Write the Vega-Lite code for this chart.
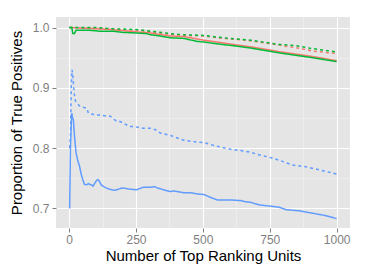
{
  "$schema": "https://vega.github.io/schema/vega-lite/v6.json",
  "width": 294,
  "height": 211,
  "autosize": "none",
  "padding": {"left": 56, "top": 17, "right": 18, "bottom": 48},
  "background": "white",
  "config": {
    "view": {"fill": "#E5E5E5", "stroke": null},
    "font": "Liberation Sans",
    "axis": {
      "domain": false,
      "labelFont": "Liberation Sans",
      "titleFont": "Liberation Sans",
      "labelFontSize": 12,
      "labelColor": "#7F7F7F",
      "tickSize": 4,
      "tickWidth": 1,
      "titleFontSize": 15,
      "titleFontWeight": "normal",
      "titleColor": "black"
    }
  },
  "data": {
    "values": [
      {"x": 1, "y": 1.0, "m": "A", "s": "solid"},
      {"x": 50, "y": 0.999, "m": "A", "s": "solid"},
      {"x": 100, "y": 0.998, "m": "A", "s": "solid"},
      {"x": 150, "y": 0.997, "m": "A", "s": "solid"},
      {"x": 200, "y": 0.995, "m": "A", "s": "solid"},
      {"x": 250, "y": 0.993, "m": "A", "s": "solid"},
      {"x": 304, "y": 0.991, "m": "A", "s": "solid"},
      {"x": 379, "y": 0.986, "m": "A", "s": "solid"},
      {"x": 429, "y": 0.985, "m": "A", "s": "solid"},
      {"x": 504, "y": 0.979, "m": "A", "s": "solid"},
      {"x": 554, "y": 0.976, "m": "A", "s": "solid"},
      {"x": 629, "y": 0.971, "m": "A", "s": "solid"},
      {"x": 679, "y": 0.968, "m": "A", "s": "solid"},
      {"x": 785, "y": 0.960, "m": "A", "s": "solid"},
      {"x": 910, "y": 0.952, "m": "A", "s": "solid"},
      {"x": 1000, "y": 0.945, "m": "A", "s": "solid"},

      {"x": 1, "y": 1.0, "m": "A", "s": "dashed"},
      {"x": 100, "y": 0.999, "m": "A", "s": "dashed"},
      {"x": 164, "y": 0.997, "m": "A", "s": "dashed"},
      {"x": 251, "y": 0.996, "m": "A", "s": "dashed"},
      {"x": 304, "y": 0.993, "m": "A", "s": "dashed"},
      {"x": 379, "y": 0.989, "m": "A", "s": "dashed"},
      {"x": 429, "y": 0.987, "m": "A", "s": "dashed"},
      {"x": 504, "y": 0.986, "m": "A", "s": "dashed"},
      {"x": 554, "y": 0.983, "m": "A", "s": "dashed"},
      {"x": 629, "y": 0.980, "m": "A", "s": "dashed"},
      {"x": 679, "y": 0.978, "m": "A", "s": "dashed"},
      {"x": 785, "y": 0.971, "m": "A", "s": "dashed"},
      {"x": 872, "y": 0.9646, "m": "A", "s": "dashed"},
      {"x": 910, "y": 0.961, "m": "A", "s": "dashed"},
      {"x": 1000, "y": 0.957, "m": "A", "s": "dashed"},

      {"x": 1, "y": 1.0, "m": "B", "s": "solid"},
      {"x": 10, "y": 1.0, "m": "B", "s": "solid"},
      {"x": 14, "y": 0.990, "m": "B", "s": "solid"},
      {"x": 20, "y": 0.990, "m": "B", "s": "solid"},
      {"x": 26, "y": 0.9955, "m": "B", "s": "solid"},
      {"x": 76, "y": 0.9955, "m": "B", "s": "solid"},
      {"x": 114, "y": 0.994, "m": "B", "s": "solid"},
      {"x": 164, "y": 0.994, "m": "B", "s": "solid"},
      {"x": 201, "y": 0.992, "m": "B", "s": "solid"},
      {"x": 251, "y": 0.991, "m": "B", "s": "solid"},
      {"x": 289, "y": 0.990, "m": "B", "s": "solid"},
      {"x": 304, "y": 0.988, "m": "B", "s": "solid"},
      {"x": 326, "y": 0.987, "m": "B", "s": "solid"},
      {"x": 379, "y": 0.983, "m": "B", "s": "solid"},
      {"x": 429, "y": 0.982, "m": "B", "s": "solid"},
      {"x": 479, "y": 0.977, "m": "B", "s": "solid"},
      {"x": 504, "y": 0.976, "m": "B", "s": "solid"},
      {"x": 554, "y": 0.973, "m": "B", "s": "solid"},
      {"x": 629, "y": 0.969, "m": "B", "s": "solid"},
      {"x": 679, "y": 0.966, "m": "B", "s": "solid"},
      {"x": 785, "y": 0.958, "m": "B", "s": "solid"},
      {"x": 910, "y": 0.950, "m": "B", "s": "solid"},
      {"x": 1000, "y": 0.9435, "m": "B", "s": "solid"},

      {"x": 1, "y": 1.0, "m": "B", "s": "dashed"},
      {"x": 100, "y": 1.0, "m": "B", "s": "dashed"},
      {"x": 164, "y": 0.998, "m": "B", "s": "dashed"},
      {"x": 251, "y": 0.9967, "m": "B", "s": "dashed"},
      {"x": 304, "y": 0.994, "m": "B", "s": "dashed"},
      {"x": 379, "y": 0.990, "m": "B", "s": "dashed"},
      {"x": 429, "y": 0.988, "m": "B", "s": "dashed"},
      {"x": 504, "y": 0.987, "m": "B", "s": "dashed"},
      {"x": 554, "y": 0.984, "m": "B", "s": "dashed"},
      {"x": 629, "y": 0.981, "m": "B", "s": "dashed"},
      {"x": 679, "y": 0.979, "m": "B", "s": "dashed"},
      {"x": 785, "y": 0.972, "m": "B", "s": "dashed"},
      {"x": 847, "y": 0.970, "m": "B", "s": "dashed"},
      {"x": 910, "y": 0.965, "m": "B", "s": "dashed"},
      {"x": 1000, "y": 0.9596, "m": "B", "s": "dashed"},

      {"x": 2, "y": 0.700, "m": "C", "s": "solid"},
      {"x": 5, "y": 0.800, "m": "C", "s": "solid"},
      {"x": 8, "y": 0.840, "m": "C", "s": "solid"},
      {"x": 10, "y": 0.858, "m": "C", "s": "solid"},
      {"x": 13, "y": 0.850, "m": "C", "s": "solid"},
      {"x": 16, "y": 0.847, "m": "C", "s": "solid"},
      {"x": 20, "y": 0.820, "m": "C", "s": "solid"},
      {"x": 26, "y": 0.792, "m": "C", "s": "solid"},
      {"x": 32, "y": 0.780, "m": "C", "s": "solid"},
      {"x": 39, "y": 0.770, "m": "C", "s": "solid"},
      {"x": 45, "y": 0.757, "m": "C", "s": "solid"},
      {"x": 51, "y": 0.748, "m": "C", "s": "solid"},
      {"x": 57, "y": 0.740, "m": "C", "s": "solid"},
      {"x": 64, "y": 0.739, "m": "C", "s": "solid"},
      {"x": 72, "y": 0.741, "m": "C", "s": "solid"},
      {"x": 82, "y": 0.739, "m": "C", "s": "solid"},
      {"x": 90, "y": 0.737, "m": "C", "s": "solid"},
      {"x": 95, "y": 0.741, "m": "C", "s": "solid"},
      {"x": 102, "y": 0.746, "m": "C", "s": "solid"},
      {"x": 107, "y": 0.748, "m": "C", "s": "solid"},
      {"x": 113, "y": 0.745, "m": "C", "s": "solid"},
      {"x": 120, "y": 0.739, "m": "C", "s": "solid"},
      {"x": 130, "y": 0.736, "m": "C", "s": "solid"},
      {"x": 139, "y": 0.734, "m": "C", "s": "solid"},
      {"x": 150, "y": 0.732, "m": "C", "s": "solid"},
      {"x": 170, "y": 0.730, "m": "C", "s": "solid"},
      {"x": 185, "y": 0.732, "m": "C", "s": "solid"},
      {"x": 201, "y": 0.734, "m": "C", "s": "solid"},
      {"x": 225, "y": 0.732, "m": "C", "s": "solid"},
      {"x": 251, "y": 0.731, "m": "C", "s": "solid"},
      {"x": 265, "y": 0.733, "m": "C", "s": "solid"},
      {"x": 276, "y": 0.735, "m": "C", "s": "solid"},
      {"x": 304, "y": 0.735, "m": "C", "s": "solid"},
      {"x": 320, "y": 0.736, "m": "C", "s": "solid"},
      {"x": 329, "y": 0.734, "m": "C", "s": "solid"},
      {"x": 345, "y": 0.732, "m": "C", "s": "solid"},
      {"x": 360, "y": 0.730, "m": "C", "s": "solid"},
      {"x": 379, "y": 0.728, "m": "C", "s": "solid"},
      {"x": 391, "y": 0.729, "m": "C", "s": "solid"},
      {"x": 429, "y": 0.726, "m": "C", "s": "solid"},
      {"x": 454, "y": 0.726, "m": "C", "s": "solid"},
      {"x": 480, "y": 0.724, "m": "C", "s": "solid"},
      {"x": 504, "y": 0.723, "m": "C", "s": "solid"},
      {"x": 530, "y": 0.718, "m": "C", "s": "solid"},
      {"x": 554, "y": 0.714, "m": "C", "s": "solid"},
      {"x": 580, "y": 0.714, "m": "C", "s": "solid"},
      {"x": 604, "y": 0.714, "m": "C", "s": "solid"},
      {"x": 641, "y": 0.713, "m": "C", "s": "solid"},
      {"x": 660, "y": 0.711, "m": "C", "s": "solid"},
      {"x": 679, "y": 0.710, "m": "C", "s": "solid"},
      {"x": 710, "y": 0.706, "m": "C", "s": "solid"},
      {"x": 747, "y": 0.704, "m": "C", "s": "solid"},
      {"x": 785, "y": 0.702, "m": "C", "s": "solid"},
      {"x": 810, "y": 0.698, "m": "C", "s": "solid"},
      {"x": 860, "y": 0.696, "m": "C", "s": "solid"},
      {"x": 910, "y": 0.692, "m": "C", "s": "solid"},
      {"x": 960, "y": 0.688, "m": "C", "s": "solid"},
      {"x": 1000, "y": 0.683, "m": "C", "s": "solid"},

      {"x": 2, "y": 0.800, "m": "C", "s": "dashed"},
      {"x": 5, "y": 0.820, "m": "C", "s": "dashed"},
      {"x": 8, "y": 0.900, "m": "C", "s": "dashed"},
      {"x": 11, "y": 0.930, "m": "C", "s": "dashed"},
      {"x": 14, "y": 0.920, "m": "C", "s": "dashed"},
      {"x": 19, "y": 0.891, "m": "C", "s": "dashed"},
      {"x": 24, "y": 0.878, "m": "C", "s": "dashed"},
      {"x": 29, "y": 0.875, "m": "C", "s": "dashed"},
      {"x": 35, "y": 0.872, "m": "C", "s": "dashed"},
      {"x": 41, "y": 0.869, "m": "C", "s": "dashed"},
      {"x": 50, "y": 0.868, "m": "C", "s": "dashed"},
      {"x": 60, "y": 0.867, "m": "C", "s": "dashed"},
      {"x": 66, "y": 0.866, "m": "C", "s": "dashed"},
      {"x": 72, "y": 0.858, "m": "C", "s": "dashed"},
      {"x": 80, "y": 0.857, "m": "C", "s": "dashed"},
      {"x": 101, "y": 0.855, "m": "C", "s": "dashed"},
      {"x": 116, "y": 0.855, "m": "C", "s": "dashed"},
      {"x": 139, "y": 0.853, "m": "C", "s": "dashed"},
      {"x": 154, "y": 0.853, "m": "C", "s": "dashed"},
      {"x": 176, "y": 0.845, "m": "C", "s": "dashed"},
      {"x": 191, "y": 0.844, "m": "C", "s": "dashed"},
      {"x": 226, "y": 0.836, "m": "C", "s": "dashed"},
      {"x": 241, "y": 0.836, "m": "C", "s": "dashed"},
      {"x": 276, "y": 0.833, "m": "C", "s": "dashed"},
      {"x": 304, "y": 0.833, "m": "C", "s": "dashed"},
      {"x": 320, "y": 0.831, "m": "C", "s": "dashed"},
      {"x": 341, "y": 0.825, "m": "C", "s": "dashed"},
      {"x": 379, "y": 0.821, "m": "C", "s": "dashed"},
      {"x": 429, "y": 0.813, "m": "C", "s": "dashed"},
      {"x": 479, "y": 0.810, "m": "C", "s": "dashed"},
      {"x": 504, "y": 0.809, "m": "C", "s": "dashed"},
      {"x": 554, "y": 0.803, "m": "C", "s": "dashed"},
      {"x": 604, "y": 0.798, "m": "C", "s": "dashed"},
      {"x": 641, "y": 0.796, "m": "C", "s": "dashed"},
      {"x": 679, "y": 0.793, "m": "C", "s": "dashed"},
      {"x": 710, "y": 0.789, "m": "C", "s": "dashed"},
      {"x": 747, "y": 0.785, "m": "C", "s": "dashed"},
      {"x": 785, "y": 0.780, "m": "C", "s": "dashed"},
      {"x": 835, "y": 0.772, "m": "C", "s": "dashed"},
      {"x": 885, "y": 0.769, "m": "C", "s": "dashed"},
      {"x": 935, "y": 0.764, "m": "C", "s": "dashed"},
      {"x": 1000, "y": 0.757, "m": "C", "s": "dashed"}
    ]
  },
  "mark": {"type": "line", "strokeWidth": 1.5, "interpolate": "linear"},
  "encoding": {
    "x": {
      "field": "x", "type": "quantitative",
      "scale": {"domain": [-49, 1050], "nice": false, "zero": false},
      "title": "Number of Top Ranking Units",
      "axis": {
        "values": [0, 125, 250, 375, 500, 625, 750, 875, 1000],
        "labelExpr": "datum.value % 250 === 0 ? datum.label : ''",
        "format": "d",
        "gridColor": {"condition": {"test": "datum.value % 250 === 0", "value": "#FFFFFF"}, "value": "#F2F2F2"},
        "gridWidth": {"condition": {"test": "datum.value % 250 === 0", "value": 1.1}, "value": 0.6},
        "tickColor": "#7F7F7F",
        "tickOpacity": {"condition": {"test": "datum.value % 250 === 0", "value": 1}, "value": 0},
        "labelPadding": 2,
        "titlePadding": 3
      }
    },
    "y": {
      "field": "y", "type": "quantitative",
      "scale": {"domain": [0.6675, 1.0175], "nice": false, "zero": false},
      "title": "Proportion of True Positives",
      "axis": {
        "values": [0.7, 0.75, 0.8, 0.85, 0.9, 0.95, 1.0],
        "labelExpr": "round(datum.value * 100) % 10 === 0 ? format(datum.value, '.1f') : ''",
        "gridColor": {"condition": {"test": "round(datum.value * 100) % 10 === 0", "value": "#FFFFFF"}, "value": "#F2F2F2"},
        "gridWidth": {"condition": {"test": "round(datum.value * 100) % 10 === 0", "value": 1.1}, "value": 0.6},
        "tickColor": "#7F7F7F",
        "tickOpacity": {"condition": {"test": "round(datum.value * 100) % 10 === 0", "value": 1}, "value": 0},
        "labelPadding": 3,
        "titlePadding": 8
      }
    },
    "color": {
      "field": "m", "type": "nominal",
      "scale": {"domain": ["A", "B", "C"], "range": ["#F8766D", "#00BA38", "#619CFF"]},
      "legend": null
    },
    "strokeDash": {
      "field": "s", "type": "nominal",
      "scale": {"domain": ["solid", "dashed"], "range": [[1, 0], [3, 3]]},
      "legend": null
    },
    "detail": {"field": "s"}
  }
}
